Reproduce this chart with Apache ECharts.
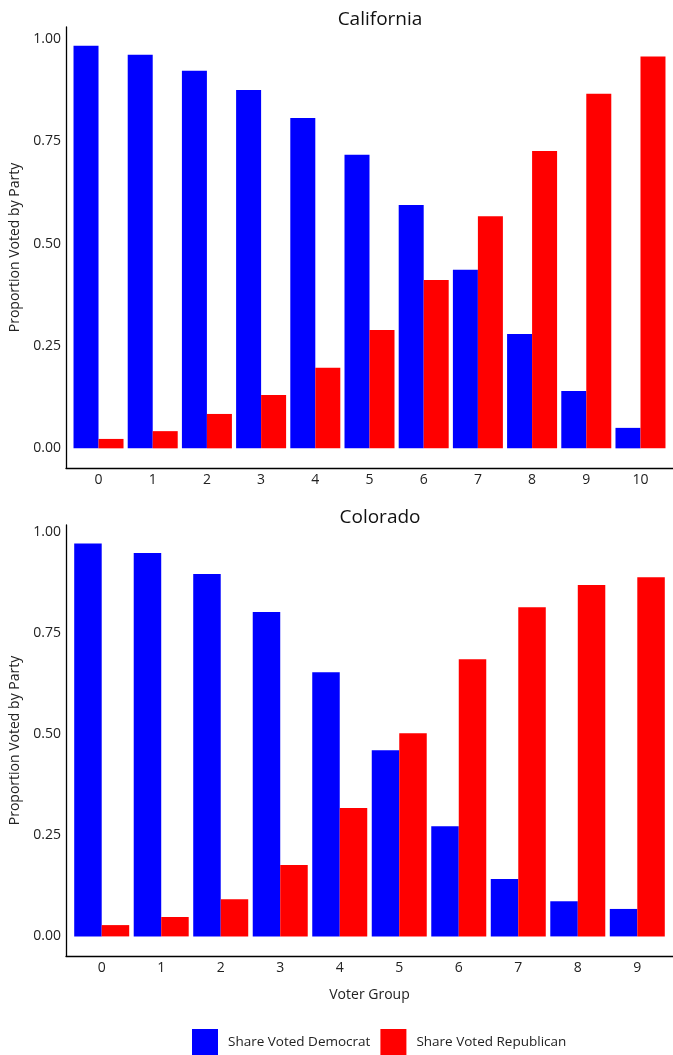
<!DOCTYPE html>
<html>
<head>
<meta charset="utf-8">
<script src="https://cdn.jsdelivr.net/npm/echarts@6/dist/echarts.min.js"></script>
<style>
  html, body { margin: 0; padding: 0; background: #fff; }
  #chart { width: 673px; height: 1055px; }
</style>
</head>
<body>
<div id="chart"></div>
<script>
// Voter groups per state
const caGroups = [0, 1, 2, 3, 4, 5, 6, 7, 8, 9, 10];
const coGroups = [0, 1, 2, 3, 4, 5, 6, 7, 8, 9];

// Share voting each party
const caDem = [0.983, 0.961, 0.922, 0.875, 0.807, 0.717, 0.594, 0.436, 0.279, 0.140, 0.050];
const caRep = [0.023, 0.042, 0.084, 0.130, 0.197, 0.289, 0.411, 0.567, 0.726, 0.866, 0.957];
const coDem = [0.973, 0.949, 0.897, 0.803, 0.654, 0.461, 0.273, 0.142, 0.087, 0.068];
const coRep = [0.028, 0.048, 0.092, 0.177, 0.318, 0.503, 0.686, 0.815, 0.870, 0.889];

const yTicks = [0, 0.25, 0.5, 0.75, 1];

const FONT = 'Open Sans';
const TEXT = '#222';

const chart = echarts.init(document.getElementById('chart'));

function pairs(groups, vals) {
    return groups.map(function (g, i) { return [g, vals[i]]; });
}

function xAxis(gridIndex, groups, name) {
    return {
        type: 'value',
        gridIndex: gridIndex,
        min: -0.6,
        max: groups[groups.length - 1] + 0.6,
        name: name,
        nameLocation: 'middle',
        nameGap: 32,
        nameTextStyle: { fontFamily: FONT, fontSize: 14, color: TEXT },
        axisLine: { onZero: false, lineStyle: { color: '#000', width: 1.3 } },
        axisTick: { show: false },
        splitLine: { show: false },
        axisLabel: {
            customValues: groups,
            formatter: function (v) { return String(Math.round(v)); },
            fontFamily: FONT, fontSize: 14, color: TEXT, margin: 5
        }
    };
}

function yAxis(gridIndex, min, max) {
    return {
        type: 'value',
        gridIndex: gridIndex,
        min: min,
        max: max,
        name: 'Proportion Voted by Party',
        nameLocation: 'middle',
        nameGap: 42,
        nameTextStyle: { fontFamily: FONT, fontSize: 14, color: TEXT },
        axisLine: { show: true, onZero: false, lineStyle: { color: '#000', width: 1.3 } },
        axisTick: { show: false },
        splitLine: { show: false },
        axisLabel: {
            customValues: yTicks,
            formatter: function (v) { return v.toFixed(2); },
            fontFamily: FONT, fontSize: 14, color: TEXT, margin: 5
        }
    };
}

function bars(name, color, axisIndex, groups, vals, width) {
    return {
        name: name,
        type: 'bar',
        xAxisIndex: axisIndex,
        yAxisIndex: axisIndex,
        barWidth: width,
        barGap: '0%',
        itemStyle: { color: color },
        data: pairs(groups, vals)
    };
}

const option = {
    animation: false,
    title: [
        { text: 'California', left: 375, top: 5, textAlign: 'center',
          textStyle: { fontFamily: FONT, fontSize: 19, fontWeight: 'normal', color: '#111' } },
        { text: 'Colorado', left: 375, top: 503, textAlign: 'center',
          textStyle: { fontFamily: FONT, fontSize: 19, fontWeight: 'normal', color: '#111' } }
    ],
    legend: {
        left: 192,
        top: 1029,
        padding: 0,
        itemWidth: 26,
        itemHeight: 26,
        itemGap: 10,
        icon: 'rect',
        textStyle: { fontFamily: FONT, fontSize: 13.5, color: TEXT, padding: [0, 0, 0, 5] },
        data: ['Share Voted Democrat', 'Share Voted Republican']
    },
    grid: [
        { left: 66, top: 27, width: 618, height: 441 },
        { left: 66, top: 525, width: 618, height: 431 }
    ],
    xAxis: [xAxis(0, caGroups, ''), xAxis(1, coGroups, 'Voter Group')],
    yAxis: [yAxis(0, -0.048, 1.029), yAxis(1, -0.0485, 1.0185)],
    series: [
        bars('Share Voted Democrat', '#0000ff', 0, caGroups, caDem, 25),
        bars('Share Voted Republican', '#ff0000', 0, caGroups, caRep, 25),
        bars('Share Voted Democrat', '#0000ff', 1, coGroups, coDem, 27.5),
        bars('Share Voted Republican', '#ff0000', 1, coGroups, coRep, 27.5)
    ]
};

chart.setOption(option);

window.addEventListener('resize', function () {
    chart.resize();
});
</script>
</body>
</html>
